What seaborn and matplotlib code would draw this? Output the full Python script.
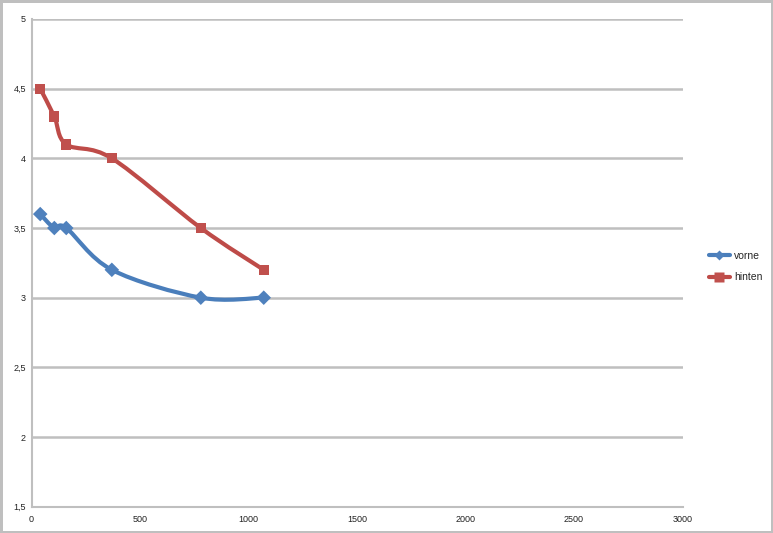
import numpy as np
import matplotlib
matplotlib.use('Agg')
import matplotlib.pyplot as plt
from matplotlib.path import Path
from matplotlib.patches import PathPatch
from matplotlib.lines import Line2D
from matplotlib.ticker import FuncFormatter
import seaborn as sns
import pandas as pd

# data
x_vals = [40, 105, 160, 370, 780, 1070]
vorne = [3.6, 3.5, 3.5, 3.2, 3.0, 3.0]
hinten = [4.5, 4.3, 4.1, 4.0, 3.5, 3.2]
series_names = ['vorne', 'hinten']
x_ticks = [0, 500, 1000, 1500, 2000, 2500, 3000]
y_ticks = [1.5, 2, 2.5, 3, 3.5, 4, 4.5, 5]

BLUE = '#4A7EBB'
RED = '#BE4B48'
GRID = '#BFBFBF'


def smooth_path(xs, ys):
    """Excel-like smoothed line: cubic Bezier with Catmull-Rom control points"""
    pts = np.column_stack([xs, ys]).astype(float)
    n = len(pts)
    verts = [pts[0]]
    codes = [Path.MOVETO]
    for i in range(n - 1):
        p0 = pts[i - 1] if i > 0 else pts[i]
        p1 = pts[i]
        p2 = pts[i + 1]
        p3 = pts[i + 2] if i + 2 < n else pts[i + 1]
        c1 = p1 + (p2 - p0) / 6.0
        c2 = p2 - (p3 - p1) / 6.0
        verts += [c1, c2, p2]
        codes += [Path.CURVE4] * 3
    return Path(verts, codes)


df = pd.DataFrame({'x': x_vals * 2,
                   'y': vorne + hinten,
                   'serie': ['vorne'] * len(x_vals) + ['hinten'] * len(x_vals)})

sns.set_style('white')
plt.rcParams['font.family'] = ['Liberation Sans', 'DejaVu Sans']

fig = plt.figure(figsize=(7.73, 5.33), dpi=100)
fig.patch.set_edgecolor(GRID)
fig.patch.set_linewidth(2.5)
ax = fig.add_axes([0.0408, 0.0493, 0.8422, 0.9151])

# smoothed lines
for ys, col in [(vorne, BLUE), (hinten, RED)]:
    ax.add_patch(PathPatch(smooth_path(x_vals, ys), facecolor='none',
                           edgecolor=col, lw=3.0, capstyle='round',
                           joinstyle='round', zorder=3))

# markers
sns.scatterplot(data=df, x='x', y='y', hue='serie', style='serie',
                palette={'vorne': '#4F81BD', 'hinten': '#C0504D'},
                markers={'vorne': 'D', 'hinten': 's'},
                s=55, edgecolor='none', legend=False, ax=ax, zorder=4)
for coll in ax.collections:
    coll.set_edgecolor('none')

ax.set_xlim(0, 3000)
ax.set_ylim(1.5, 5)
ax.set_xticks(x_ticks)
ax.set_yticks(y_ticks)
ax.yaxis.set_major_formatter(FuncFormatter(lambda v, p: f'{v:g}'.replace('.', ',')))
ax.set_xlabel('')
ax.set_ylabel('')

ax.grid(axis='y', color=GRID, lw=1.8)
ax.grid(axis='x', visible=False)
ax.set_axisbelow(True)
for side in ['top', 'right']:
    ax.spines[side].set_visible(False)
for side in ['left', 'bottom']:
    ax.spines[side].set_color(GRID)
    ax.spines[side].set_linewidth(1.5)
ax.tick_params(axis='both', length=3, width=1, color=GRID, labelsize=6.5,
               labelcolor='#222222', pad=3)
ax.tick_params(axis='y', length=0, pad=4)
ax.tick_params(axis='x', direction='out', length=3)

handles = [Line2D([], [], color=BLUE, lw=3.0, marker='D', markersize=5,
                  markerfacecolor='#4F81BD', markeredgecolor='none'),
           Line2D([], [], color=RED, lw=3.0, marker='s', markersize=6.5,
                  markerfacecolor='#C0504D', markeredgecolor='none')]
fig.legend(handles, series_names, loc='center left', bbox_to_anchor=(0.905, 0.5),
           frameon=False, fontsize=7.5, handlelength=2.0, handletextpad=0.4,
           labelspacing=1.1)

fig.savefig('out.png', dpi=100, facecolor='white')
